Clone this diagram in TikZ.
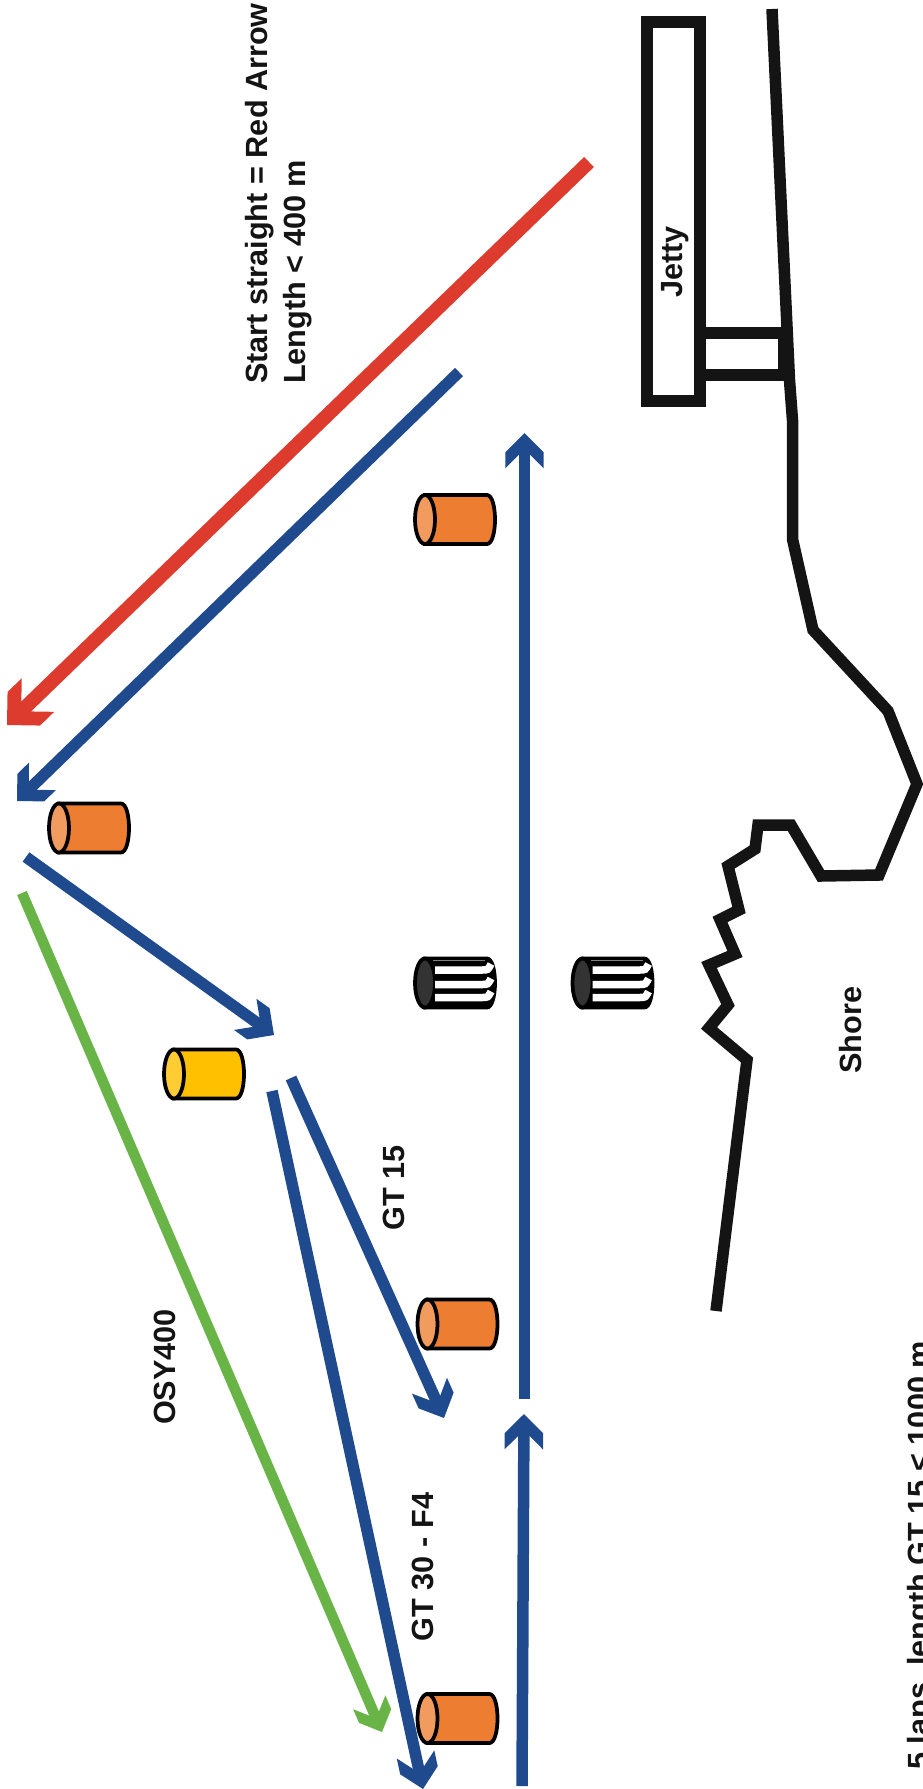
\documentclass[tikz,border=0pt]{standalone}
\usepackage{fontspec}
\setmainfont{Liberation Sans}
\usepackage{xcolor}
\definecolor{courseblue}{HTML}{1F4A8E}
\definecolor{coursered}{HTML}{DD3B2E}
\definecolor{coursegreen}{HTML}{68B446}
\definecolor{ink}{HTML}{141414}
\definecolor{buoyorange}{HTML}{ED7D31}
\definecolor{buoyorangeend}{HTML}{F19C5E}
\definecolor{buoyyellow}{HTML}{FFC000}
\definecolor{buoyyellowend}{HTML}{FFCD33}
\pgfdeclarearrow{
  name = Chevron,
  parameters = {\the\pgflinewidth},
  setup code = {
    \pgfarrowssettipend{0pt}
    \pgfarrowssetlineend{-1.2\pgflinewidth}
    \pgfarrowssetvisualbackend{-1.2\pgflinewidth}
    \pgfarrowssetbackend{-3.08\pgflinewidth}
    \pgfarrowssavethe\pgflinewidth
  },
  drawing code = {
    \pgfpathmoveto{\pgfqpoint{0pt}{0pt}}
    \pgfpathlineto{\pgfqpoint{-1.67\pgflinewidth}{1.67\pgflinewidth}}
    \pgfpathlineto{\pgfqpoint{-3.08\pgflinewidth}{1.67\pgflinewidth}}
    \pgfpathlineto{\pgfqpoint{-1.91\pgflinewidth}{0.5\pgflinewidth}}
    \pgfpathlineto{\pgfqpoint{-1.91\pgflinewidth}{-0.5\pgflinewidth}}
    \pgfpathlineto{\pgfqpoint{-3.08\pgflinewidth}{-1.67\pgflinewidth}}
    \pgfpathlineto{\pgfqpoint{-1.67\pgflinewidth}{-1.67\pgflinewidth}}
    \pgfpathclose
    \pgfusepathqfill
  },
}
\tikzset{
  pics/buoy/.style 2 args = {code = {
    \draw [black, line width=0.075cm, fill=#1] (-30,-24.5) -- (32,-24.5) .. controls (37,-24.5) and (40,-13) .. (40,0) .. controls (40,13) and (37,24.5) .. (32,24.5) -- (-30,24.5) -- cycle;
    \draw [black, line width=0.075cm, fill=#2] (-30,0) ellipse [x radius=0.2cm, y radius=0.49cm];
  }},
  pics/stripedbuoy/.style = {code = {
    \pic {buoy={black}{black!80}};
    \draw [gray, line width=0.02cm] (-22,-23) -- (30,-23);
    \foreach \dy in {-13,1.5,14.5}
      \draw [white, line width=0.15cm] (-20,\dy) -- (27,\dy) .. controls (33,\dy) .. (36,\dy-6);
  }},
}
\begin{document}
\begin{tikzpicture}[x=0.02cm, y=-0.02cm]
\tikzstyle{txt} = [rotate=90, inner sep=0pt, text=ink, font=\fontsize{17.45}{21.8}\selectfont\bfseries]
\tikzstyle{course} = [courseblue, line width=0.23cm, -Chevron]
\tikzstyle{coast} = [ink, line width=0.23cm, miter limit=10]
\useasboundingbox (0,0) rectangle (923,1789);
\clip (0,0) rectangle (923,1789);
% jetty and shore
\draw [coast] (700,333) rectangle (784,375);
\draw [coast] (647,22) rectangle (700,401);
\draw [coast] (772,9) -- (789.5,380) -- (792.7,423) -- (792.7,540) -- (813,630) -- (888,711) -- (917,784) -- (879,875) -- (821,876) -- (791,825) -- (758,825) -- (755,849) -- (728,866) -- (739,910) -- (720,919.5) -- (735,954) -- (709,965) -- (728,1005) -- (709,1028) -- (747,1060) -- (716,1311);
% buoys
\pic (topbuoy) at (455,519.5) {buoy={buoyorange}{buoyorangeend}};
\pic (markbuoy) at (89,828) {buoy={buoyorange}{buoyorangeend}};
\pic (yellowmark) at (204,1074) {buoy={buoyyellow}{buoyyellowend}};
\pic (gatein) at (455,983) {stripedbuoy};
\pic (gateout) at (612.5,983) {stripedbuoy};
\pic (lowbuoy) at (457.5,1324) {buoy={buoyorange}{buoyorangeend}};
\pic (endbuoy) at (457.5,1718.5) {buoy={buoyorange}{buoyorangeend}};
% course legs
\coordinate (redstart) at (589,162);
\coordinate (redend) at (7,725);
\coordinate (leginstart) at (459,372);
\coordinate (leginend) at (17,801);
\coordinate (reachstart) at (26,857);
\coordinate (reachend) at (274,1035);
\coordinate (gtstart) at (291,1078);
\coordinate (gtend) at (444,1418);
\coordinate (fourstart) at (272,1091);
\coordinate (fourend) at (423,1789);
\coordinate (osystart) at (22,893);
\coordinate (osyend) at (382,1732);
\coordinate (finalstart) at (524.5,1399);
\coordinate (finalend) at (524.5,433);
\coordinate (lapstart) at (522,1786);
\coordinate (lapend) at (524,1414);
\draw [coursered, line width=0.28cm, -Chevron] (redstart) -- (redend);
\draw [course] (leginstart) -- (leginend);
\draw [course] (reachstart) -- (reachend);
\draw [course] (gtstart) -- (gtend);
\draw [course] (fourstart) -- (fourend);
\draw [coursegreen, line width=0.21cm, -Chevron] (osystart) -- (osyend);
\draw [course] (finalstart) -- (finalend);
\draw [course] (lapstart) -- (lapend);
% labels
\node (startnote) [txt, align=left] at (278.5,193.5) {Start straight = Red Arrow\\Length < 400 m};
\node (jettylabel) [txt] at (675,262) {Jetty};
\node (shorelabel) [txt] at (851,1030) {Shore};
\node (gtfifteen) [txt] at (393.5,1188) {GT 15};
\node (osylabel) [txt] at (165,1367) {OSY400};
\node (gtthirty) [txt] at (423,1567) {GT 30 - F4};
\node (lapsnote) [txt, anchor=base west] at (929,1770) {5 laps, length GT 15 < 1000 m};
\end{tikzpicture}
\end{document}
